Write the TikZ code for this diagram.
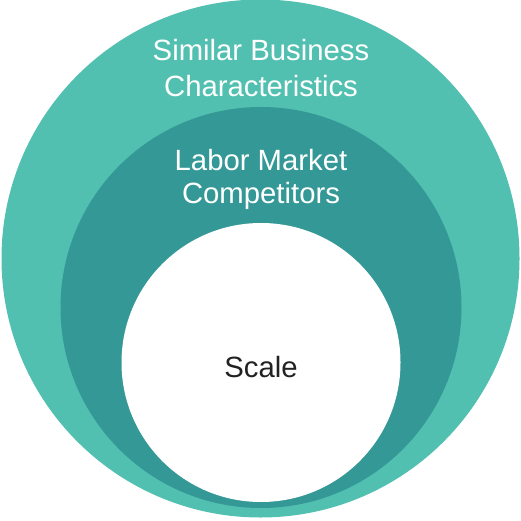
\documentclass[tikz,border=0pt]{standalone}
\usepackage{fontspec}
\setmainfont{Liberation Sans}
\definecolor{outerc}{HTML}{52C0B0}
\definecolor{midc}{HTML}{339896}
\definecolor{txtc}{HTML}{222222}
\begin{document}
\begin{tikzpicture}[x=1pt,y=-1pt,
  lbl/.style={font=\fontsize{29.3}{35}\selectfont, anchor=base, inner sep=0pt}]
\useasboundingbox (0,0) rectangle (521,521);
\fill[outerc] (260.5,258.5) circle[radius=259];
\fill[midc] (261,307.5) circle[radius=200.5];
\fill[white] (261,362.5) circle[radius=139.5];
\node[lbl, text=white] (o1) at (261,61) {Similar Business};
\node[lbl, text=white] (o2) at (261,97) {Characteristics};
\node[lbl, text=white] (m1) at (261,171) {Labor Market};
\node[lbl, text=white] (m2) at (261,204) {Competitors};
\node[lbl, text=txtc] (s) at (261,377) {Scale};
\end{tikzpicture}
\end{document}
